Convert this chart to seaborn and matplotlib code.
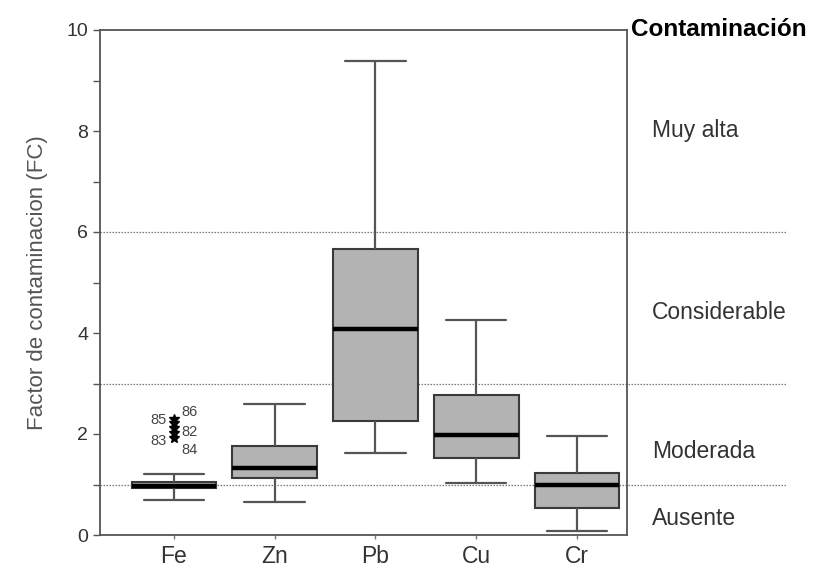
import numpy as np
import pandas as pd
import matplotlib
matplotlib.use("Agg")
import matplotlib.pyplot as plt
import seaborn as sns

# Contamination factor (FC) per element: five-number summaries
elements = ["Fe", "Zn", "Pb", "Cu", "Cr"]
whisker_low = [0.70, 0.66, 1.62, 1.02, 0.08]
q1 = [0.93, 1.12, 2.26, 1.52, 0.54]
median = [0.98, 1.32, 4.07, 1.98, 0.99]
q3 = [1.04, 1.76, 5.67, 2.77, 1.22]
whisker_high = [1.20, 2.59, 9.38, 4.25, 1.96]

# Extreme Fe values (sample ids)
fe_outlier_ids = ["86", "85", "82", "83", "84"]
fe_outlier_values = [2.30, 2.22, 2.12, 2.02, 1.93]

# Contamination classes
thresholds = [1, 3, 6]
classes = ["Ausente", "Moderada", "Considerable", "Muy alta"]
class_label_y = [0.33, 1.65, 4.4, 8.0]

rows = []
for i, el in enumerate(elements):
    for v in (whisker_low[i], q1[i], median[i], q3[i], whisker_high[i]):
        rows.append({"Elemento": el, "FC": v})
df = pd.DataFrame(rows)

sns.set_style("white")
plt.rcParams["font.family"] = ["Liberation Sans", "DejaVu Sans"]

fig = plt.figure(figsize=(8.39, 5.71), dpi=100)
ax = fig.add_axes([100 / 839, 1 - 535 / 571, 527 / 839, 505 / 571])

line_col = "#3a3a3a"
sns.boxplot(
    data=df, x="Elemento", y="FC", order=elements, ax=ax,
    whis=(0, 100), width=0.84, color="#b3b3b3", saturation=1,
    linecolor=line_col, linewidth=1.5, showfliers=False,
    medianprops=dict(color="black", linewidth=3.2),
    whiskerprops=dict(color="#555555", linewidth=1.6),
    capprops=dict(color="#555555", linewidth=1.6),
    capwidths=0.6,
)

# Threshold lines extend beyond the frame into the class-label column
for t in thresholds:
    ax.axhline(t, xmin=0, xmax=1.304, color="#777777", linestyle=(0, (1.2, 1.2)),
               linewidth=0.9, clip_on=False, zorder=0.5)

# Extreme values for Fe
fe_x = elements.index("Fe")
ax.plot([fe_x] * len(fe_outlier_values), fe_outlier_values, linestyle="none",
        marker="*", markersize=7, color="black", zorder=5)
id_offsets = {"86": (5, 5, "left"), "85": (-5, 2, "right"), "82": (5, -3, "left"),
              "83": (-5, -6, "right"), "84": (5, -9, "left")}
for lab, v in zip(fe_outlier_ids, fe_outlier_values):
    dx, dy, ha = id_offsets[lab]
    ax.annotate(lab, (fe_x, v), xytext=(dx, dy), textcoords="offset points",
                ha=ha, va="center", fontsize=10.5, color="#444444")

ax.set_xlim(-0.734, 4.496)
ax.set_ylim(0, 10)
ax.set_yticks([0, 2, 4, 6, 8, 10])
ax.set_yticks([1, 3, 5, 7, 9], minor=True)
ax.tick_params(axis="y", which="both", direction="out", length=5, width=1,
               color="#555555", labelsize=14, labelcolor="#333333", left=True)
ax.tick_params(axis="x", direction="out", length=3, width=1, color="#777777",
               labelsize=16.5, labelcolor="#333333", bottom=True, pad=4)
ax.set_xlabel("")
ax.set_ylabel("Factor de contaminacion (FC)", fontsize=16, color="#555555", labelpad=13)

for side in ["left", "right", "top", "bottom"]:
    ax.spines[side].set_visible(True)
    ax.spines[side].set_color("#555555")
    ax.spines[side].set_linewidth(1.3)

# Class labels
ax.text(1.008, 1.0, "Contaminación", transform=ax.transAxes, fontsize=17.5,
        fontweight="bold", color="black", ha="left", va="center")
for lab, y in zip(classes, class_label_y):
    ax.text(1.047, y, lab, transform=ax.get_yaxis_transform(), fontsize=16.5,
            color="#333333", ha="left", va="center")

fig.savefig("out.png", dpi=100)
